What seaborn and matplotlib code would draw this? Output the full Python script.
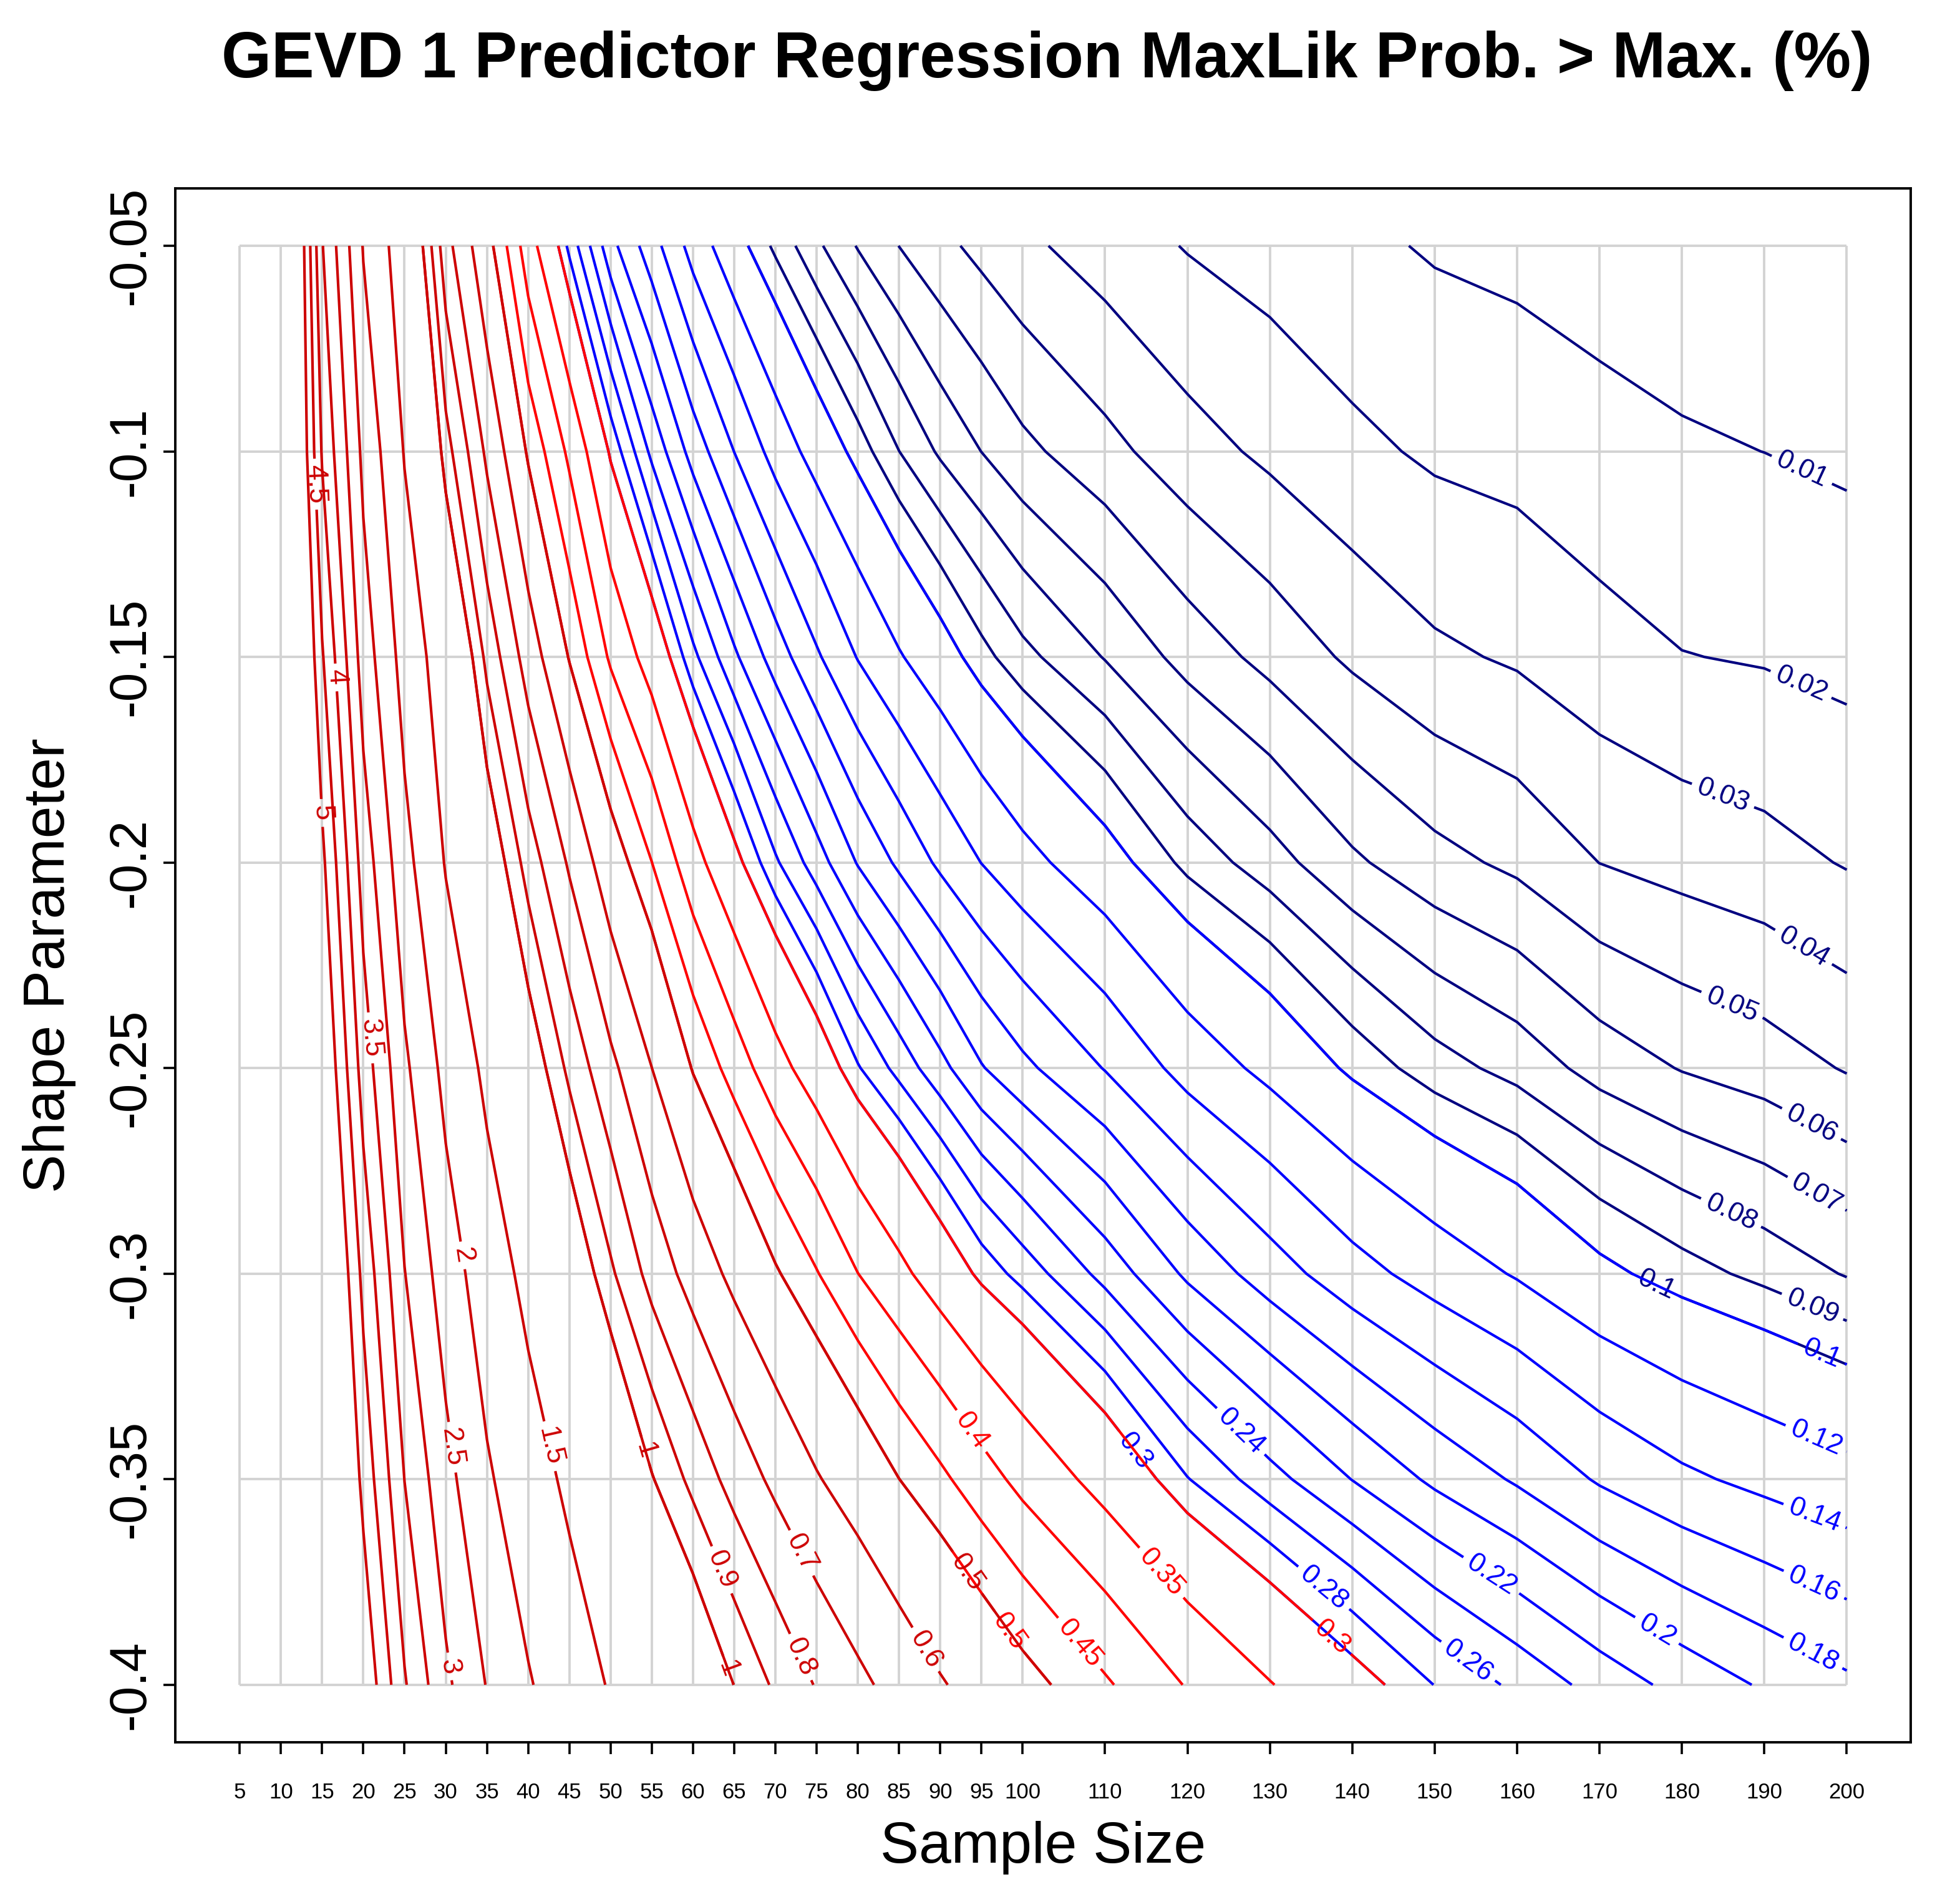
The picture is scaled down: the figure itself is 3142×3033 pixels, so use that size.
import numpy as np
import matplotlib
matplotlib.use("Agg")
import matplotlib.pyplot as plt
import seaborn as sns


sample_size = [5, 10, 15, 20, 25, 30, 35, 40, 45, 50, 55, 60, 65, 70, 75, 80, 85, 90, 95, 100,
               110, 120, 130, 140, 150, 160, 170, 180, 190, 200]
shape_param = [-0.05, -0.10, -0.15, -0.20, -0.25, -0.30, -0.35, -0.40]
shape_labels = ["-0.05", "-0.1", "-0.15", "-0.2", "-0.25", "-0.3", "-0.35", "-0.4"]

# probability (%) that the max is exceeded, one list per shape value
prob_s005 = [13.0, 6.9, 3.53, 1.969, 1.21, 0.735, 0.523, 0.371, 0.2737, 0.2064, 0.1684, 0.1322, 0.1063, 0.0876, 0.072,
             0.0593, 0.0499, 0.0428, 0.0371, 0.0322, 0.0252, 0.0194, 0.0158, 0.0122, 0.0090, 0.0074, 0.0058, 0.0048, 0.0042, 0.0036]
prob_s010 = [13.5, 6.8, 3.95, 2.375, 1.472, 0.941, 0.679, 0.4898, 0.3894, 0.2953, 0.2347, 0.1919, 0.1598, 0.1323, 0.1119,
             0.0954, 0.0801, 0.0684, 0.0599, 0.0526, 0.0432, 0.0341, 0.0279, 0.0224, 0.0184, 0.0167, 0.0133, 0.0111, 0.00995, 0.0083]
prob_s015 = [14.0, 6.93, 4.553, 2.765, 1.80, 1.24, 0.869, 0.653, 0.4951, 0.392, 0.327, 0.2653, 0.2237, 0.1907, 0.1628,
             0.139, 0.1217, 0.1075, 0.0936, 0.0831, 0.0694, 0.0562, 0.0468, 0.0382, 0.0319, 0.0287, 0.024, 0.0203, 0.0192, 0.0172]
prob_s020 = [15.0, 7.8, 5.124, 3.282, 2.154, 1.471, 1.114, 0.853, 0.687, 0.538, 0.4505, 0.3676, 0.3096, 0.2632, 0.2294,
             0.1986, 0.1762, 0.1561, 0.1397, 0.1268, 0.1067, 0.0869, 0.0744, 0.0618, 0.0533, 0.0478, 0.0399, 0.0365, 0.0336, 0.0293]
prob_s025 = [16.0, 8.6, 5.6, 3.78, 2.593, 1.859, 1.403, 1.096, 0.873, 0.724, 0.6005, 0.4957, 0.4275, 0.3682, 0.3242,
             0.282, 0.2528, 0.2265, 0.2015, 0.1848, 0.159, 0.1324, 0.1146, 0.0972, 0.0844, 0.0764, 0.0661, 0.0594, 0.0552, 0.0492]
prob_s030 = [17.0, 9.4, 6.11, 4.36, 3.015, 2.245, 1.733, 1.383, 1.128, 0.917, 0.763, 0.659, 0.576, 0.507, 0.453,
             0.4005, 0.362, 0.3254, 0.2933, 0.272, 0.233, 0.1962, 0.1697, 0.1478, 0.1315, 0.1183, 0.1037, 0.0943, 0.087, 0.0792]
prob_s035 = [18.0, 10.2, 6.5, 4.85, 3.494, 2.657, 2.064, 1.699, 1.416, 1.212, 1.008, 0.87, 0.761, 0.677, 0.607,
             0.553, 0.5005, 0.461, 0.421, 0.3857, 0.332, 0.281, 0.2475, 0.2195, 0.1958, 0.1774, 0.1577, 0.1439, 0.1346, 0.1263]
prob_s040 = [19.0, 11.0, 7.2, 5.45, 4.05, 3.1, 2.476, 2.04, 1.73, 1.466, 1.31, 1.153, 0.998, 0.883, 0.793,
             0.724, 0.663, 0.608, 0.564, 0.523, 0.4566, 0.3965, 0.3522, 0.3135, 0.2795, 0.2552, 0.2323, 0.2133, 0.1976, 0.184]

# contour level sets, drawn bottom to top
levels_navy = [0.01, 0.02, 0.03, 0.04, 0.05, 0.06, 0.07, 0.08, 0.09, 0.1]
levels_blue = [0.1, 0.12, 0.14, 0.16, 0.18, 0.2, 0.22, 0.24, 0.26, 0.28, 0.3]
levels_red = [0.3, 0.35, 0.4, 0.45, 0.5]
levels_red3_low = [0.5, 0.6, 0.7, 0.8, 0.9, 1.0]
levels_red3_high = [1.0, 1.5, 2.0, 2.5, 3.0, 3.5, 4.0, 4.5, 5.0]

# where the labels sit (sample size, shape)
lab_navy = [(194.3, -0.1056), (194.3, -0.1574), (184.5, -0.1863), (194.3, -0.2221), (185.6, -0.2369),
            (195.6, -0.2640), (195.9, -0.2820), (185.6, -0.2867), (195.6, -0.3092), (176.6, -0.3039)]
lab_blue = [(196.5, -0.3215), (195.7, -0.3428), (195.6, -0.3615), (195.6, -0.3775), (195.7, -0.3930),
            (176.7, -0.3877), (156.6, -0.3742), (126.3, -0.3387), (153.9, -0.3947), (136.3, -0.3770), (113.1, -0.3440)]
lab_red = [(137.3, -0.3889), (116.7, -0.3730), (92.7, -0.3398), (106.5, -0.3906), (97.7, -0.3881)]
lab_red3_low = [(92.2, -0.3742), (87.9, -0.3918), (73.1, -0.3680), (72.9, -0.3934), (63.3, -0.3722), (64.1, -0.3963)]
lab_red3_high = [(54.1, -0.3431), (41.9, -0.3423), (31.6, -0.2957), (30.5, -0.3423), (30.6, -0.3955),
                 (20.6, -0.2427), (16.6, -0.1550), (13.9, -0.1080), (14.4, -0.1880)]

sns.set_theme(style="white")
plt.rcParams["font.family"] = ["Liberation Sans", "DejaVu Sans"]
plt.rcParams["axes.unicode_minus"] = False
plt.rcParams["text.color"] = "black"
plt.rcParams["axes.labelcolor"] = "black"
plt.rcParams["xtick.color"] = "black"
plt.rcParams["ytick.color"] = "black"

fig = plt.figure(figsize=(15.71, 15.165), dpi=200)
ax = fig.add_axes([0.0895, 0.0791, 0.8855, 0.8214])
ax.set_xlim(-2.8, 207.8)
ax.set_ylim(-0.414, -0.036)

grid_col = "#D3D3D3"
ax.vlines(sample_size, shape_param[-1], shape_param[0], color=grid_col, lw=1.4, zorder=1)
ax.hlines(shape_param, sample_size[0], sample_size[-1], color=grid_col, lw=1.4, zorder=1)

X, Y = np.meshgrid(sample_size, shape_param)
Z = np.array([prob_s005, prob_s010, prob_s015, prob_s020, prob_s025, prob_s030, prob_s035, prob_s040])

contour_sets = [
    (levels_navy, "#000080", lab_navy),
    (levels_blue, "#0000FF", lab_blue),
    (levels_red, "#FF0000", lab_red),
    (levels_red3_low, "#CD0000", lab_red3_low),
    (levels_red3_high, "#CD0000", lab_red3_high),
]
for i, (lv, col, pos) in enumerate(contour_sets):
    cs = ax.contour(X, Y, Z, levels=lv, colors=col, linewidths=1.5, zorder=2 + i)
    ax.clabel(cs, levels=lv, manual=pos, inline=True, inline_spacing=10, fontsize=16,
              fmt=lambda v: f"{v:g}", zorder=2.5 + i)

ax.set_xticks(sample_size)
ax.set_xticklabels([str(v) for v in sample_size], fontsize=12.5)
ax.set_yticks(shape_param)
ax.set_yticklabels(shape_labels, fontsize=30, rotation=90, va="center")
ax.tick_params(axis="x", direction="out", length=7, width=1.3, pad=16)
ax.tick_params(axis="y", direction="out", length=7, width=1.3, pad=5)
ax.tick_params(bottom=True, left=True)

for sp in ax.spines.values():
    sp.set_visible(True)
    sp.set_color("black")
    sp.set_linewidth(1.4)

ax.set_xlabel("Sample Size", fontsize=33.5)
ax.xaxis.set_label_coords(0.5, -0.068)
ax.xaxis.label.set_va("center")
ax.set_ylabel("Shape Parameter", fontsize=33.5)
ax.yaxis.set_label_coords(-0.0728, 0.5)
ax.yaxis.label.set_va("center")

fig.text(0.534, 0.968, "GEVD 1 Predictor Regression MaxLik Prob. > Max. (%)",
         ha="center", va="center", fontsize=37, fontweight="bold")

fig.savefig("out.png", dpi=200)
plt.close(fig)
